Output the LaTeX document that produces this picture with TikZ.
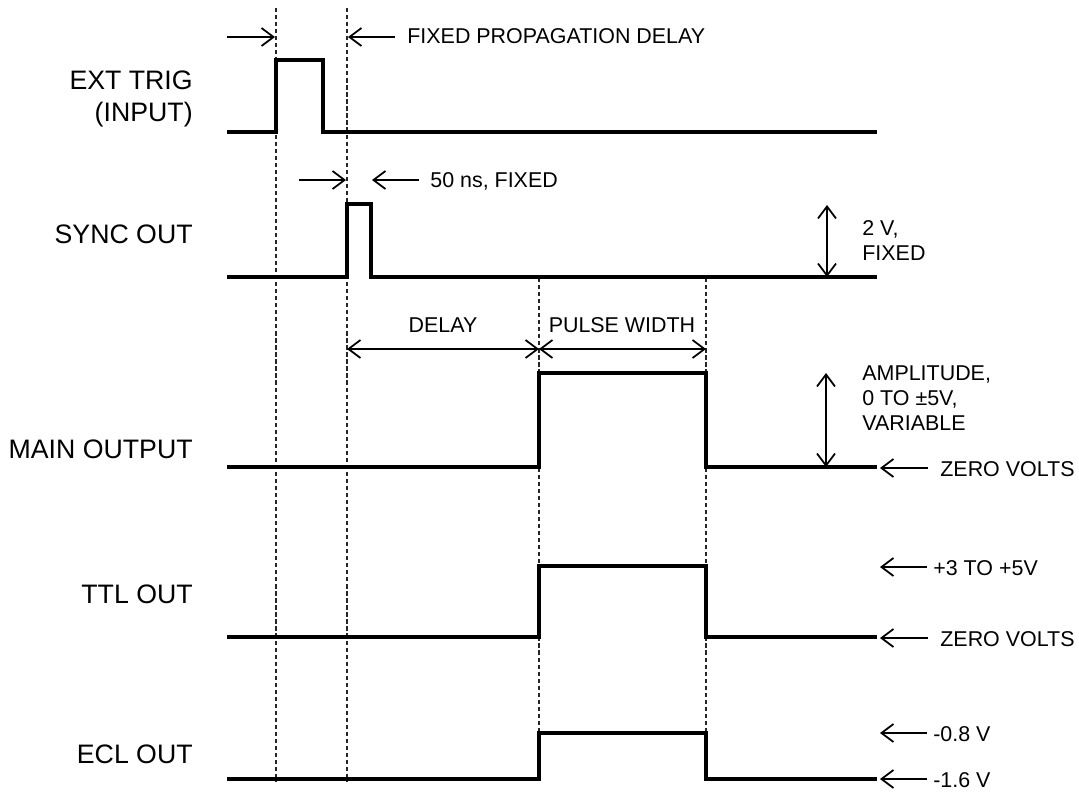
\documentclass[tikz,border=0pt]{standalone}
\usepackage{fontspec}
\setmainfont{Liberation Sans}
\usetikzlibrary{arrows.meta}
\begin{document}
\begin{tikzpicture}[x=0.02cm,y=-0.02cm,
  sig/.style={line width=2.2pt, line join=miter, line cap=butt},
  guide/.style={line width=0.7pt, black!85, dash pattern=on 2.4pt off 1.6pt},
  dimone/.style={line width=1pt, -{Straight Barb[length=0.24cm,width=0.36cm]}},
  dimtwo/.style={line width=1pt, {Straight Barb[length=0.24cm,width=0.36cm]}-{Straight Barb[length=0.24cm,width=0.36cm]}},
  rowlbl/.style={font=\fontsize{15.2}{18.7}\selectfont, inner sep=0pt, align=right},
  lbl/.style={font=\fontsize{12.2}{14.2}\selectfont, inner sep=0pt, align=left}]
\useasboundingbox (0,0) rectangle (1079,792);

% vertical guide lines
\draw[guide] (276,8) -- (276,782);
\draw[guide] (347,8) -- (347,782);
\draw[guide] (539,278) -- (539,782);
\draw[guide] (706,278) -- (706,782);

% waveforms
\draw[sig] (227,132) -- (276,132) -- (276,60) -- (323,60) -- (323,132) -- (877,132);
\draw[sig] (227,277) -- (347,277) -- (347,204) -- (371,204) -- (371,277) -- (877,277);
\draw[sig] (227,467) -- (539,467) -- (539,373) -- (706,373) -- (706,467) -- (877,467);
\draw[sig] (227,637) -- (539,637) -- (539,566) -- (706,566) -- (706,637) -- (877,637);
\draw[sig] (227,779) -- (539,779) -- (539,733) -- (706,733) -- (706,779) -- (877,779);

% row labels
\node[rowlbl, anchor=north east] (ext) at (193,70) {EXT TRIG\\(INPUT)};
\node[rowlbl, anchor=base east] (sync) at (193,243) {SYNC OUT};
\node[rowlbl, anchor=base east] (main) at (193,458) {MAIN OUTPUT};
\node[rowlbl, anchor=base east] (ttl) at (193,603) {TTL OUT};
\node[rowlbl, anchor=base east] (ecl) at (193,763) {ECL OUT};

% propagation delay
\coordinate (pa1) at (227,37); \coordinate (pa2) at (275,37);
\coordinate (pb1) at (395,37); \coordinate (pb2) at (348,37);
\draw[dimone] (pa1) -- (pa2);
\draw[dimone] (pb1) -- (pb2);
\node[lbl, anchor=base west] (prop) at (407,43) {FIXED PROPAGATION DELAY};

% 50 ns
\coordinate (sa1) at (299,180); \coordinate (sa2) at (346,180);
\coordinate (sb1) at (419,180); \coordinate (sb2) at (372,180);
\draw[dimone] (sa1) -- (sa2);
\draw[dimone] (sb1) -- (sb2);
\node[lbl, anchor=base west] (fifty) at (430,187) {50 ns, FIXED};

% 2 V fixed
\coordinate (va1) at (827,205); \coordinate (va2) at (827,277);
\draw[dimtwo] (va1) -- (va2);
\node[lbl, anchor=north west] (twov) at (862,220) {2 V,\\FIXED};

% delay and pulse width
\coordinate (d1) at (347,349); \coordinate (d2) at (539,349); \coordinate (d3) at (706,349);
\draw[dimtwo] (d1) -- (d2);
\draw[dimtwo] (d2) -- (d3);
\node[lbl, anchor=base] (delay) at (443,332) {DELAY};
\node[lbl, anchor=base] (pw) at (622,332) {PULSE WIDTH};

% amplitude
\coordinate (am1) at (826,373); \coordinate (am2) at (826,467);
\draw[dimtwo] (am1) -- (am2);
\node[lbl, anchor=north west] (amp) at (862,365) {AMPLITUDE,\\0 TO ±5V,\\VARIABLE};

% right side level labels
\coordinate (z1a) at (928,468); \coordinate (z1b) at (880,468);
\draw[dimone] (z1a) -- (z1b);
\node[lbl, anchor=base west] (zero1) at (940,476) {ZERO VOLTS};

\coordinate (t1a) at (927,567); \coordinate (t1b) at (880,567);
\draw[dimone] (t1a) -- (t1b);
\node[lbl, anchor=base west] (ttlhi) at (933,575) {+3 TO +5V};

\coordinate (z2a) at (928,638); \coordinate (z2b) at (880,638);
\draw[dimone] (z2a) -- (z2b);
\node[lbl, anchor=base west] (zero2) at (940,646) {ZERO VOLTS};

\coordinate (e1a) at (927,733); \coordinate (e1b) at (880,733);
\draw[dimone] (e1a) -- (e1b);
\node[lbl, anchor=base west] (eclhi) at (933,741) {-0.8 V};

\coordinate (e2a) at (927,779); \coordinate (e2b) at (880,779);
\draw[dimone] (e2a) -- (e2b);
\node[lbl, anchor=base west] (ecllo) at (933,787) {-1.6 V};
\end{tikzpicture}
\end{document}
